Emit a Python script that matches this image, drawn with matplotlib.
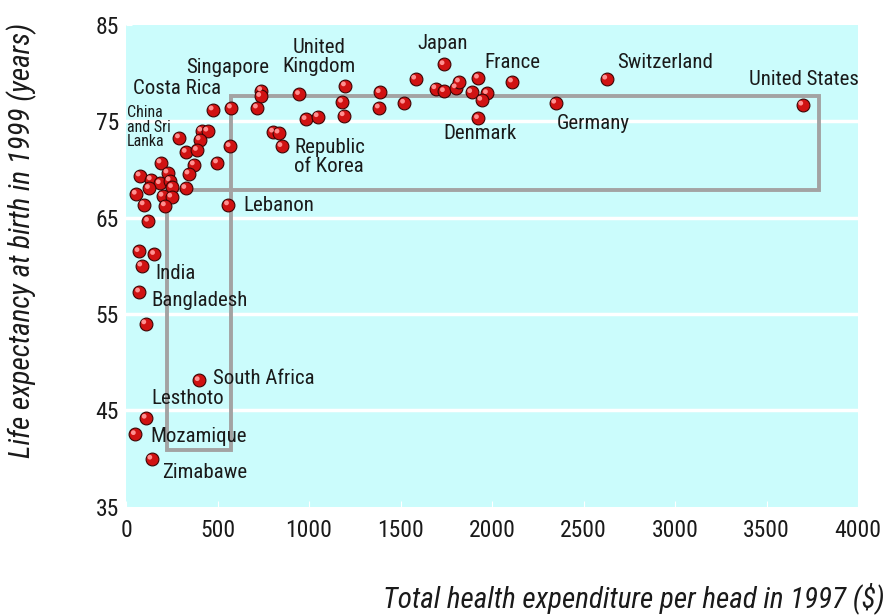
import matplotlib
matplotlib.use('Agg')
import matplotlib.pyplot as plt
from matplotlib import font_manager
from matplotlib.patches import Rectangle
from matplotlib.transforms import offset_copy

# health expenditure per head 1997 ($) and life expectancy 1999 (years)
spend = [475, 575, 740, 735, 717, 947, 1198, 1182, 1191, 983, 1049, 1388, 1383,
         291, 413, 446, 404, 328, 389, 568, 805, 835, 851, 499, 372, 343,
         190, 228, 76, 137, 186, 240, 253, 127, 326, 55, 201, 249, 98, 214,
         559, 122, 70, 155, 85, 73, 107, 399, 109, 50, 140,
         1521, 1582, 1737, 1692, 1739, 1803, 1821, 1925, 1888, 1974, 1943,
         1925, 2111, 2347, 2626, 3697]
life = [76.2, 76.4, 78.2, 77.6, 76.4, 77.8, 78.7, 77.0, 75.6, 75.2, 75.5, 78.0, 76.4,
        73.3, 74.0, 74.0, 73.1, 71.8, 72.0, 72.4, 73.9, 73.8, 72.4, 70.7, 70.5, 69.55,
        70.7, 69.65, 69.35, 68.95, 68.55, 68.85, 68.15, 68.05, 68.05, 67.45, 67.25,
        67.15, 66.35, 66.25, 66.35, 64.65, 61.5, 61.2, 60.0, 57.3, 54.0, 48.1, 44.2,
        42.5, 39.95,
        76.9, 79.4, 80.9, 78.4, 78.1, 78.5, 79.1, 79.5, 78.0, 77.9, 77.2,
        75.3, 79.1, 76.9, 79.4, 76.7]

labels = ['Costa Rica', 'Singapore', 'United\nKingdom', 'Japan', 'France',
          'Switzerland', 'United States', 'Germany', 'Denmark',
          'Republic\nof Korea', 'Lebanon', 'India', 'Bangladesh',
          'South Africa', 'Lesthoto', 'Mozamique', 'Zimabawe']
label_x = [38, 328, 1055, 1732, 1956, 2683, 3404, 2355, 1732,
           918, 639, 158, 137, 475, 137, 131, 197]
label_y = [78.4, 80.6, 81.65, 83.1, 81.1, 81.1, 79.3, 74.8, 73.75,
           71.25, 66.3, 59.2, 56.4, 48.3, 46.2, 42.3, 38.5]
centred = ['United\nKingdom', 'Japan']

xticks = [0, 500, 1000, 1500, 2000, 2500, 3000, 3500, 4000]
yticks = [35, 45, 55, 65, 75, 85]

avail = {f.name for f in font_manager.fontManager.ttflist}
narrow = 'DejaVu Sans'
for name in ['Liberation Sans Narrow', 'Roboto Condensed', 'Open Sans Condensed', 'Roboto']:
    if name in avail:
        narrow = name
        break
plt.rcParams['font.family'] = [narrow, 'DejaVu Sans']

fig = plt.figure(figsize=(8.88, 6.16), dpi=100)
ax = fig.add_axes([126/888, 1-506.7/616, 732/888, 481.7/616])
ax.set_facecolor('#cbfcfc')
ax.set_xlim(0, 4000)
ax.set_ylim(35, 85)
for s in ax.spines.values():
    s.set_visible(False)

for y in [45, 55, 65, 75]:
    ax.axhline(y, color='white', lw=2.5, zorder=1)

# the two grey boxes
ax.add_patch(Rectangle((574, 67.9), 3789-574, 77.6-67.9, fill=False,
                       ec='#a3a3a3', lw=2.8, zorder=2))
ax.add_patch(Rectangle((222, 40.9), 574-222, 67.9-40.9, fill=False,
                       ec='#a3a3a3', lw=2.8, zorder=2))

ax.scatter(spend, life, s=85, c='#d01212', edgecolors='#3c0505', linewidths=0.8, zorder=3)
hl = offset_copy(ax.transData, fig=fig, x=-1.3, y=1.3, units='points')
ax.scatter(spend, life, s=12, c='#ff8f8f', edgecolors='none', transform=hl, zorder=4)

for t, x, y in zip(labels, label_x, label_y):
    ax.text(x, y, t, fontsize=15, ha='center' if t in centred else 'left',
            va='center', color='#1a1a1a', linespacing=1.0, zorder=5)
ax.text(5, 74.4, 'China\nand Sri\nLanka', fontsize=11.5, ha='left', va='center',
        color='#1a1a1a', linespacing=0.95, zorder=5)

ax.set_xticks(xticks)
ax.set_yticks(yticks)
ax.tick_params(axis='both', colors='white', length=4, direction='in', labelsize=17,
               labelcolor='#1a1a1a')
ax.tick_params(axis='x', pad=9)
ax.tick_params(axis='y', pad=5)

fig.text(885/888, 1-598/616, 'Total health expenditure per head in 1997 ($)',
         ha='right', va='center', fontsize=21, style='italic', color='#1a1a1a')
fig.text(22/888, 1-240/616, 'Life expectancy at birth in 1999 (years)',
         ha='center', va='center', rotation=90, fontsize=21, style='italic',
         color='#1a1a1a')

fig.savefig('out.png', dpi=100)
